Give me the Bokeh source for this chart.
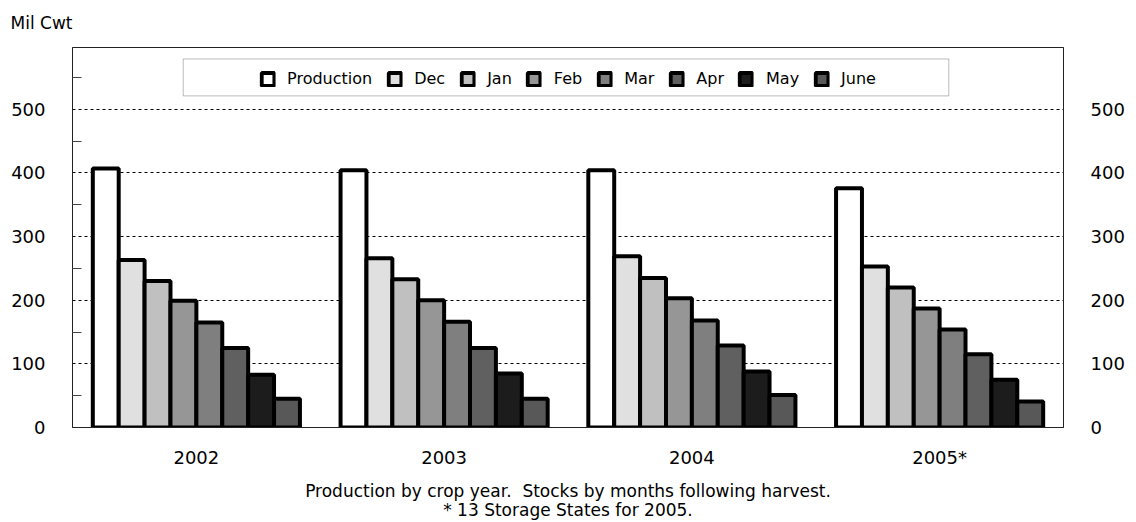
from bokeh.plotting import figure
from bokeh.models import (ColumnDataSource, FactorRange, Range1d, LinearAxis,
                          FixedTicker, BoxAnnotation, Title)
from bokeh.transform import dodge
from bokeh.embed import file_html
from bokeh.resources import INLINE

# ---- data ----
years = ["2002", "2003", "2004", "2005*"]
series_names = ["Production", "Dec", "Jan", "Feb", "Mar", "Apr", "May", "June"]
production = [407, 404, 404, 376]
dec = [263, 266, 269, 253]
jan = [230, 233, 235, 220]
feb = [199, 200, 203, 187]
mar = [165, 166, 168, 154]
apr = [125, 125, 129, 115]
may = [83, 85, 88, 75]
june = [45, 45, 51, 41]
y_ticks = [0, 100, 200, 300, 400, 500]
y_minor = [50, 150, 250, 350, 450, 550]

series_values = [production, dec, jan, feb, mar, apr, may, june]
colors = ["#ffffff", "#e0e0e0", "#c0c0c0", "#969696", "#7f7f7f", "#606060", "#1c1c1c", "#585858"]

data = {"year": years}
for name, vals in zip(series_names, series_values):
    data[name] = vals
source = ColumnDataSource(data)

FONT = "DejaVu Sans"

p = figure(width=1136, height=522, x_range=FactorRange(factors=years),
           y_range=Range1d(0, 597), output_backend="svg", toolbar_location=None,
           min_border_left=72, min_border_right=73, min_border_top=46,
           min_border_bottom=95)
p.outline_line_color = "#222222"
p.outline_line_width = 1

# legend box
box = BoxAnnotation(left=0.447, right=3.537, bottom=521, top=579,
                    fill_color="white", fill_alpha=1.0,
                    line_color="#222222", line_width=1)
p.add_layout(box)

bar_w = 0.1045
n = len(series_names)
for i, (name, col) in enumerate(zip(series_names, colors)):
    off = (i - (n - 1) / 2) * bar_w
    p.vbar(x=dodge("year", off, range=p.x_range), top=name, width=bar_w,
           source=source, fill_color=col, line_color="black", line_width=4,
           legend_label=name)

# axes
ticker = FixedTicker(ticks=y_ticks, minor_ticks=y_minor)
la = p.yaxis[0]
la.ticker = ticker
la.major_tick_in = 0
la.major_tick_out = 0
la.minor_tick_in = 9
la.minor_tick_out = 0
la.minor_tick_line_color = "#444444"
la.axis_line_color = "#222222"
la.major_label_standoff = 27
la.major_label_text_font = FONT
la.major_label_text_font_size = "18px"
la.major_label_text_color = "black"

ra = LinearAxis(ticker=FixedTicker(ticks=y_ticks))
ra.major_tick_in = 0
ra.major_tick_out = 0
ra.minor_tick_in = 0
ra.minor_tick_out = 0
ra.axis_line_color = "#222222"
ra.major_label_standoff = 27
ra.major_label_text_font = FONT
ra.major_label_text_font_size = "18px"
ra.major_label_text_color = "black"
p.add_layout(ra, "right")

ba = p.xaxis[0]
ba.major_tick_in = 0
ba.major_tick_out = 0
ba.axis_line_color = "#222222"
ba.major_label_standoff = 19
ba.major_label_text_font = FONT
ba.major_label_text_font_size = "18px"
ba.major_label_text_color = "black"
ba.axis_label = "Production by crop year.\u00a0 Stocks by months following harvest.\n* 13 Storage States for 2005."
ba.axis_label_text_font = FONT
ba.axis_label_text_font_size = "17px"
ba.axis_label_text_font_style = "normal"
ba.axis_label_text_color = "black"
ba.axis_label_text_line_height = 0.95
ba.axis_label_standoff = 10

p.xgrid.visible = False
p.ygrid.grid_line_color = "black"
p.ygrid.grid_line_dash = "3 3"
p.ygrid.grid_line_width = 1

# legend
lg = p.legend[0]
lg.location = "top_center"
lg.orientation = "horizontal"
lg.border_line_alpha = 0
lg.background_fill_alpha = 0
lg.glyph_width = 16
lg.glyph_height = 16
lg.label_standoff = 12
lg.spacing = 14
lg.padding = 10
lg.margin = 12
lg.label_text_font = FONT
lg.label_text_font_size = "16px"
lg.label_text_color = "black"

# unit title
tt = Title(text="Mil Cwt", align="left", offset=-62, text_font=FONT,
           text_font_size="17px", text_font_style="normal", text_color="black",
           standoff=25, vertical_align="top")
p.add_layout(tt, "above")

open("out.html", "w").write(file_html(p, INLINE))
